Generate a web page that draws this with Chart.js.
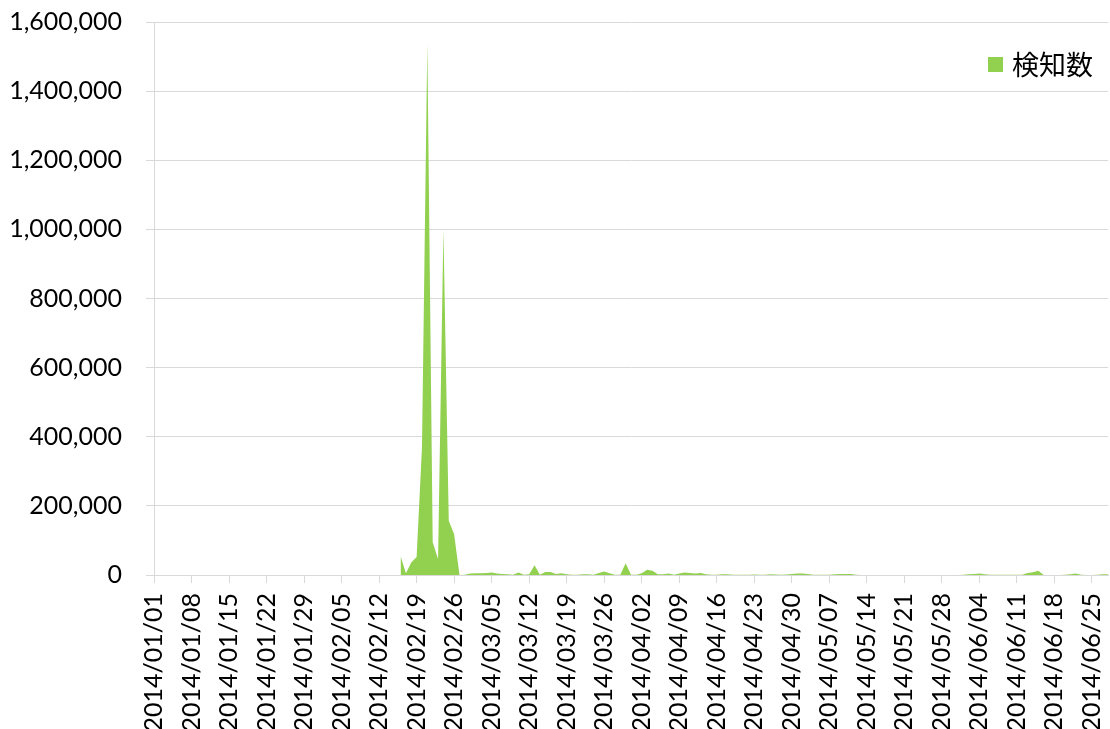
<!DOCTYPE html>
<html>
<head>
<meta charset="utf-8">
<script src="https://cdn.jsdelivr.net/npm/chart.js@4.4.1/dist/chart.umd.min.js"></script>
<style>
  html, body { margin: 0; padding: 0; background: #fff; }
  .chart-container { width: 1110px; height: 729px; }
</style>
</head>
<body>
<div class="chart-container"><canvas id="chart"></canvas></div>
<script>
const seriesName = '検知数';

// weekly tick labels, day 0 = 2014/01/01
const tickLabels = [
  '2014/01/01', '2014/01/08', '2014/01/15', '2014/01/22', '2014/01/29',
  '2014/02/05', '2014/02/12', '2014/02/19', '2014/02/26', '2014/03/05',
  '2014/03/12', '2014/03/19', '2014/03/26', '2014/04/02', '2014/04/09',
  '2014/04/16', '2014/04/23', '2014/04/30', '2014/05/07', '2014/05/14',
  '2014/05/21', '2014/05/28', '2014/06/04', '2014/06/11', '2014/06/18',
  '2014/06/25',
];

const firstDay = 46;  // 2014/02/16, nothing recorded before this
const lastDay = 178;  // 2014/06/27

// daily detections from 2014/02/16 onwards
const counts = [
  55000, 5000, 36000, 52000, 370000, 1540000, 95000, 46000, 1000000, 157000,
  118000, 0, 500, 4000, 5000, 5000, 6000, 7000, 4000, 3000,
  2000, 1000, 7000, 1000, 2000, 28000, 1000, 9000, 9000, 3000,
  5000, 2000, 500, 1000, 2000, 2000, 1000, 6000, 10000, 5000,
  1000, 1000, 34000, 1000, 1000, 5000, 15000, 12000, 2000, 2000,
  4000, 1000, 4000, 7000, 6000, 4000, 6000, 2000, 500, 1000,
  2000, 2000, 1000, 500, 500, 500, 1500, 1000, 500, 2000,
  1500, 500, 1500, 3000, 4000, 4000, 3000, 1000, 500, 500,
  1000, 2500, 3000, 3000, 3000, 1000, 300, 300, 300, 300,
  300, 300, 300, 300, 300, 300, 300, 300, 300, 300,
  300, 300, 300, 300, 300, 1000, 2000, 3000, 4000, 2000,
  500, 500, 1000, 1000, 1000, 500, 1000, 6000, 8000, 12000,
  300, 300, 300, 300, 500, 2000, 4000, 500, 300, 300,
  1000, 2000, 2000,
];

const points = counts.map((v, i) => ({ x: firstDay + i, y: v }));

const gridColor = '#d9d9d9';
const labelFont = { family: 'Lato', size: 25 };

// legend drawn inside the plot, top right
const legendBox = {
  id: 'legendBox',
  afterDraw(chart) {
    const { ctx, chartArea } = chart;
    const ds = chart.data.datasets[0];
    ctx.save();
    ctx.fillStyle = ds.backgroundColor;
    ctx.fillRect(chartArea.right - 120, chartArea.top + 35, 15, 15);
    ctx.fillStyle = '#000';
    ctx.font = '27px "Noto Sans CJK JP"';
    ctx.textBaseline = 'middle';
    ctx.fillText(ds.label, chartArea.right - 96, chartArea.top + 43);
    ctx.restore();
  }
};

new Chart(document.getElementById('chart'), {
  type: 'line',
  data: {
    datasets: [{
      label: seriesName,
      data: points,
      backgroundColor: '#92d050',
      borderWidth: 0,
      pointRadius: 0,
      tension: 0,
      fill: 'origin',
    }],
  },
  options: {
    responsive: true,
    maintainAspectRatio: false,
    animation: false,
    layout: { padding: { top: 22, right: 2, left: 0, bottom: 0 } },
    plugins: { legend: { display: false }, tooltip: { enabled: false } },
    scales: {
      x: {
        type: 'linear',
        min: 0,
        max: lastDay,
        afterBuildTicks: (scale) => {
          scale.ticks = tickLabels.map((_, i) => ({ value: i * 7 }));
        },
        afterFit: (scale) => {
          scale.height = 154;
          scale.paddingLeft = 0;
          scale.paddingRight = 0;
        },
        grid: { drawOnChartArea: false, drawTicks: true, tickLength: 8, color: gridColor },
        border: { color: gridColor },
        ticks: {
          autoSkip: false,
          minRotation: 90,
          maxRotation: 90,
          padding: 10,
          color: '#000',
          font: labelFont,
          callback: (v) => tickLabels[v / 7],
        },
      },
      y: {
        min: 0,
        max: 1600000,
        afterFit: (scale) => {
          scale.width = 154;
          scale.paddingTop = 0;
          scale.paddingBottom = 0;
        },
        grid: { color: gridColor, tickLength: 8 },
        border: { color: gridColor },
        ticks: {
          stepSize: 200000,
          padding: 24,
          color: '#000',
          font: labelFont,
          callback: (v) => v.toLocaleString('en-US'),
        },
      },
    },
  },
  plugins: [legendBox],
});
</script>
</body>
</html>
